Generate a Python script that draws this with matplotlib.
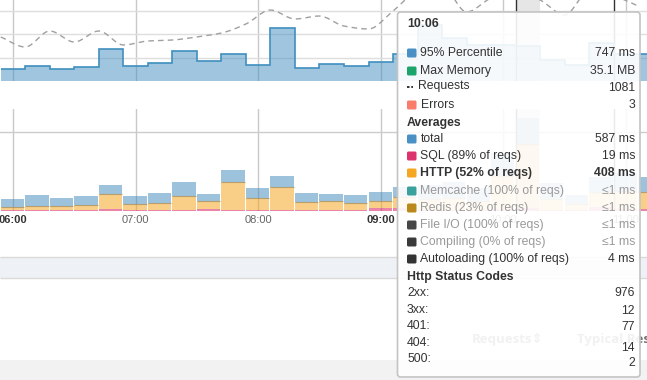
import numpy as np
import matplotlib.pyplot as plt
from matplotlib.patches import FancyBboxPatch, Rectangle

plt.rcParams['font.family'] = ['Liberation Sans', 'DejaVu Sans']

# 12 minute buckets, labelled by start time
bucket_times = ['05:54', '06:06', '06:18', '06:30', '06:42', '06:54', '07:06', '07:18', '07:30',
                '07:42', '07:54', '08:06', '08:18', '08:30', '08:42', '08:54', '09:06', '09:18',
                '09:30', '09:42', '09:54', '10:06', '10:18', '10:30', '10:42', '10:54', '11:06']
p95_ms = [250, 315, 263, 300, 678, 327, 379, 648, 428, 584, 349, 1128, 285, 357, 321, 400,
          578, 1200, 920, 770, 770, 747, 450, 340, 810, 580, 580]
requests = [523, 404, 594, 463, 594, 428, 475, 487, 523, 570, 677, 843, 737, 772, 653, 618,
            832, 1069, 1129, 820, 986, 1081, 962, 784, 1069, 1010, 891]
avg_total_ms = [76, 101, 82, 97, 165, 95, 112, 184, 105, 262, 146, 222, 112, 110, 103, 120,
                150, 165, 184, 146, 367, 587, 177, 101, 215, 240, 215]
avg_sql_ms = [6, 6, 6, 8, 15, 6, 6, 6, 13, 6, 6, 6, 6, 6, 6, 21,
              19, 6, 6, 6, 13, 19, 6, 6, 25, 13, 13]
avg_http_ms = [21, 28, 28, 32, 90, 36, 43, 87, 48, 175, 74, 144, 49, 55, 43, 40,
               70, 70, 76, 57, 209, 408, 70, 38, 95, 114, 107]

hour_labels = ['06:00', '07:00', '08:00', '09:00', '10:00', '11:00']
bold_hours = ['06:00', '09:00']
hover_time = '10:06'
marker_times = ['10:06', '10:54']

# tooltip content
tip_top_rows = [('95% Percentile', '747 ms', '#4a90c4'),
                ('Max Memory', '35.1 MB', '#1ca56b'),
                ('Requests', '1081', None),
                ('Errors', '3', '#fa7c6a')]
tip_avg_rows = [('total', '587 ms', '#4a90c4'),
                ('SQL (89% of reqs)', '19 ms', '#dc326e'),
                ('HTTP (52% of reqs)', '408 ms', '#f5a623'),
                ('Memcache (100% of reqs)', '≤1 ms', '#3aa19c'),
                ('Redis (23% of reqs)', '≤1 ms', '#b98a1b'),
                ('File I/O (100% of reqs)', '≤1 ms', '#474747'),
                ('Compiling (0% of reqs)', '≤1 ms', '#3a3a3a'),
                ('Autoloading (100% of reqs)', '4 ms', '#333333')]
avg_row_style = ['normal', 'normal', 'bold', 'muted', 'muted', 'muted', 'muted', 'normal']
status_codes = ['2xx:', '3xx:', '401:', '404:', '500:']
status_counts = [976, 12, 77, 14, 2]


def minutes(s):
    h, m = s.split(':')
    return (int(h) - 6) * 60 + int(m)


def monotone(x, y, n=16):
    # monotone cubic (Fritsch-Carlson) for the smooth requests line
    x = np.asarray(x, float)
    y = np.asarray(y, float)
    h = np.diff(x)
    d = np.diff(y) / h
    m = np.zeros_like(y)
    with np.errstate(divide='ignore', invalid='ignore'):
        hm = 2.0 / (1.0 / d[:-1] + 1.0 / d[1:])
    m[1:-1] = np.where(d[:-1] * d[1:] > 0, hm, 0.0)
    m[0], m[-1] = d[0], d[-1]
    xs, ys = [], []
    for i in range(len(h)):
        t = np.linspace(0, 1, n, endpoint=False)
        h00 = 2 * t**3 - 3 * t**2 + 1
        h10 = t**3 - 2 * t**2 + t
        h01 = -2 * t**3 + 3 * t**2
        h11 = t**3 - t**2
        xs.append(x[i] + t * h[i])
        ys.append(h00 * y[i] + h10 * h[i] * m[i] + h01 * y[i + 1] + h11 * h[i] * m[i + 1])
    xs.append([x[-1]])
    ys.append([y[-1]])
    return np.concatenate(xs), np.concatenate(ys)


W, H = 647, 380
fig = plt.figure(figsize=(W / 100, H / 100), dpi=100)


def px_axes(left, top, width, height):
    return fig.add_axes([left / W, 1 - (top + height) / H, width / W, height / H])


X0, PPH = 13, 122.6          # pixel of 06:00, pixels per hour
xlim = ((0 - X0) / PPH * 60, (W - X0) / PPH * 60)
starts = np.array([minutes(t) for t in bucket_times], float)
edges = np.append(starts, starts[-1] + 12)
hour_pos = [minutes(h) for h in hour_labels]

# page background
bg = px_axes(0, 0, W, H)
bg.set_xlim(0, W)
bg.set_ylim(H, 0)
bg.axis('off')
bg.add_patch(Rectangle((0, 256.5), W, 21, fc='#eef1f6', ec='none'))
bg.hlines([256.5, 277.5], 0, W, color='#dadada', lw=1)
bg.add_patch(Rectangle((0, 360), W, 20, fc='#f2f2f2', ec='none'))
bg.text(472, 340, 'Requests⇕', fontsize=9.5, fontweight='bold', color='#777',
        va='center', family=['Open Sans', 'DejaVu Sans'])
bg.text(577, 340, 'Typical Response', fontsize=9.5, fontweight='bold', color='#777',
        va='center', family=['Open Sans', 'DejaVu Sans'])


def style_axes(ax):
    ax.set_facecolor('none')
    for s in ax.spines.values():
        s.set_visible(False)
    ax.set_xlim(*xlim)
    ax.set_axisbelow(True)


# top chart: 95th percentile + requests
top = px_axes(0, -40, W, 121)
style_axes(top)
top.set_ylim(0, 121 / 23.4 * 500)
top.set_yticks([500, 1000, 1500, 2000])
top.set_xticks(hour_pos)
top.tick_params(length=0, labelbottom=False, labelleft=False)
top.grid(axis='y', color='#dedede', lw=1)
top.grid(axis='x', color='#c8c8c8', lw=1)
hv = minutes(hover_time)
top.axvspan(hv, hv + 12, color='#e6e6e6', lw=0, zorder=0.5)
for t in marker_times:
    top.axvline(minutes(t), color='#333333', lw=1, zorder=0.6)
top.stairs(p95_ms, edges, fill=True, color='#418fbf', alpha=0.5, lw=0)
top.stairs(p95_ms, edges, baseline=None, color='#418fbf', lw=1.2)

rq = top.twinx()
rq.set_facecolor('none')
rq.axis('off')
rq.set_ylim(0, 121 * 1081 / 91)
cx, cy = monotone(starts, requests)
rq.plot(cx, cy, color='#a0a0a0', lw=1, dashes=(4, 3))

# bottom chart: average breakdown
bot = px_axes(0, 109, W, 102)
style_axes(bot)
bot.set_ylim(0, 102 / 79 * 500)
bot.set_yticks([500])
bot.grid(axis='y', color='#cccccc', lw=1)
bot.grid(axis='x', color='#c8c8c8', lw=1)
bot.axvspan(hv, hv + 12, color='#e6e6e6', lw=0, zorder=0.5)
for t in marker_times:
    bot.axvline(minutes(t), color='#333333', lw=1, zorder=0.6)
sql = np.array(avg_sql_ms, float)
http = np.array(avg_http_ms, float)
rest = np.array(avg_total_ms, float) - sql - http
bw = 11.4
bot.bar(starts, sql, bw, align='edge', color='#dc326e', alpha=0.6, lw=0)
bot.bar(starts, http, bw, bottom=sql, align='edge', color='#f5a623', alpha=0.55, lw=0)
bot.bar(starts, rest, bw, bottom=sql + http, align='edge', color='#3d89bb', alpha=0.5, lw=0)
bot.hlines(sql + http, starts, starts + bw, color='#9c8a66', lw=0.8, alpha=0.7)
bot.set_xticks(hour_pos, hour_labels)
bot.tick_params(length=0, pad=3, labelsize=8, labelcolor='#666666', labelleft=False)
for lab in bot.get_xticklabels():
    if lab.get_text() in bold_hours:
        lab.set_fontweight('bold')
        lab.set_color('#333333')

# tooltip
ov = px_axes(0, 0, W, H)
ov.set_zorder(5)
ov.set_xlim(0, W)
ov.set_ylim(H, 0)
ov.axis('off')
ov.add_patch(FancyBboxPatch((397.5, 12), 242.5, 365, boxstyle='round,pad=0,rounding_size=3',
                            fc=(1, 1, 1, 0.9), ec='#c4c4c4', lw=1.2))

fs = 8.8
lx, tx, rx = 407, 420.5, 635
dark, muted = '#333333', '#999999'


def swatch(y, color):
    ov.add_patch(FancyBboxPatch((lx, y - 4.5), 9.5, 9, boxstyle='round,pad=0,rounding_size=1.5',
                                fc=color, ec='none'))


ov.text(lx, 24, hover_time, fontsize=fs, fontweight='bold', color=dark, va='center')
for (label, val, col), y, vy in zip(tip_top_rows, [53, 71, 86.5, 105], [53, 71, 88, 105]):
    if col is None:
        ov.plot([lx, lx + 6], [y + 0.5, y + 0.5], color=dark, lw=1.4, dashes=(1.3, 0.9))
        ov.text(tx - 2.5, y, label, fontsize=fs, color=dark, va='center')
    else:
        swatch(y, col)
        ov.text(tx, y, label, fontsize=fs, color=dark, va='center')
    ov.text(rx, vy, val, fontsize=fs, color=dark, va='center', ha='right')

ov.text(lx, 123, 'Averages', fontsize=fs, fontweight='bold', color=dark, va='center')
avg_y = [139, 156, 173, 191, 208, 225, 242, 259]
for (label, val, col), st, y in zip(tip_avg_rows, avg_row_style, avg_y):
    swatch(y, col)
    c = muted if st == 'muted' else dark
    w = 'bold' if st == 'bold' else 'normal'
    ov.text(tx, y, label, fontsize=fs, color=c, fontweight=w, va='center')
    ov.text(rx, y, val, fontsize=fs, color=c, fontweight=w, va='center', ha='right')

ov.text(lx, 277, 'Http Status Codes', fontsize=fs, fontweight='bold', color=dark, va='center')
for code, n, y, vy in zip(status_codes, status_counts, [293, 310, 326, 342.5, 359],
                          [293.5, 311, 327.5, 348, 363]):
    ov.text(lx, y, code, fontsize=fs, color=dark, va='center')
    ov.text(rx, vy, str(n), fontsize=fs, color=dark, va='center', ha='right')

fig.savefig('out.png', dpi=100)
